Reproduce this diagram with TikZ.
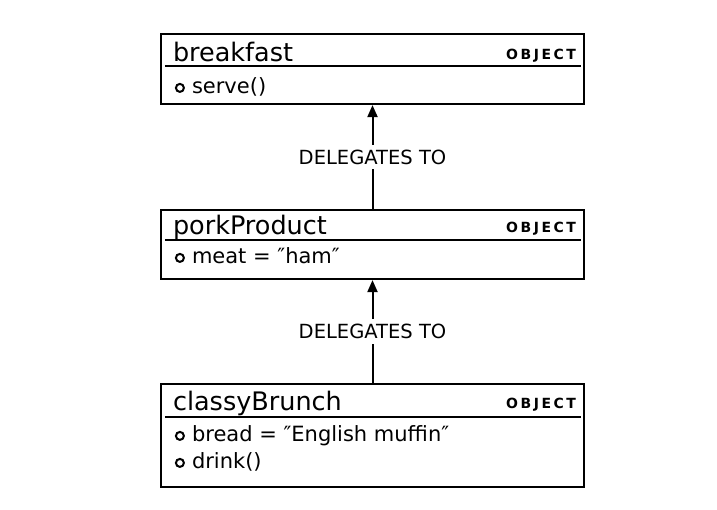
\documentclass[tikz,border=0pt]{standalone}
\usepackage{fontspec}
\setmainfont{DejaVu Sans}
\newfontfamily\tagfont[LetterSpace=18]{DejaVu Sans Bold}
\usetikzlibrary{arrows.meta, positioning, calc}
\tikzset{
  every picture/.style={line width=2.2pt},
  objbox/.style={draw, minimum width=423pt, inner sep=0pt},
  divider/.style={line width=1.4pt},
  objname/.style={anchor=base west, inner sep=0pt, font=\fontsize{25.5}{25.5}\selectfont},
  objtag/.style={anchor=base east, inner sep=0pt, font=\tagfont\fontsize{14}{14}\selectfont},
  member/.style={anchor=base west, inner sep=0pt, font=\fontsize{21}{21}\selectfont},
  memberdot/.style={circle, draw, line width=2pt, minimum size=8pt, inner sep=0pt},
  delegate/.style={-{Triangle[length=12pt, width=10pt]}, line width=2pt},
  lbl/.style={fill=white, inner xsep=2pt, inner ysep=5pt, font=\fontsize{19.5}{19.5}\selectfont},
}

\begin{document}
\begin{tikzpicture}[x=1pt, y=1pt]
  \useasboundingbox (0,0) rectangle (717,509);
  % the three objects
  \node[objbox, minimum height=70pt] (breakfast) at (372.5,440) {};
  \node[objbox, minimum height=69pt] (porkProduct) at (372.5,264.5) {};
  \node[objbox, minimum height=103pt] (classyBrunch) at (372.5,73.5) {};
  % header of each object
  \foreach \obj/\dv/\bl in {breakfast/33/29, porkProduct/31/26, classyBrunch/34/28} {
    \draw[divider] ([shift={(5pt,-\dv pt)}]\obj.north west) -- ([shift={(-4pt,-\dv pt)}]\obj.north east);
    \node[objtag] (\obj Tag) at ([shift={(-8pt,-\bl pt+2pt)}]\obj.north east) {OBJECT};
    \node[objname] (\obj Name) at ([shift={(12pt,-\bl pt)}]\obj.north west) {\obj};
  }
  % members
  \node[member] (breakfastServe) at ([shift={(31pt,-61pt)}]breakfast.north west) {serve()};
  \node[member] (porkProductMeat) at ([shift={(31pt,-55pt)}]porkProduct.north west) {meat = ″ham″};
  \node[member] (classyBrunchBread) at ([shift={(31pt,-59pt)}]classyBrunch.north west) {bread = ″English muffin″};
  \node[member] (classyBrunchDrink) at ([shift={(31pt,-86pt)}]classyBrunch.north west) {drink()};
  \foreach \m in {breakfastServe, porkProductMeat, classyBrunchBread, classyBrunchDrink}
    \node[memberdot] (\m Dot) at ([shift={(-11pt,6pt)}]\m.base west) {};
  % delegation links
  \draw[delegate] (porkProduct.north) -- node[lbl] (delegateTop) {DELEGATES TO} (breakfast.south);
  \draw[delegate] (classyBrunch.north) -- node[lbl] (delegateBottom) {DELEGATES TO} (porkProduct.south);
\end{tikzpicture}
\end{document}
